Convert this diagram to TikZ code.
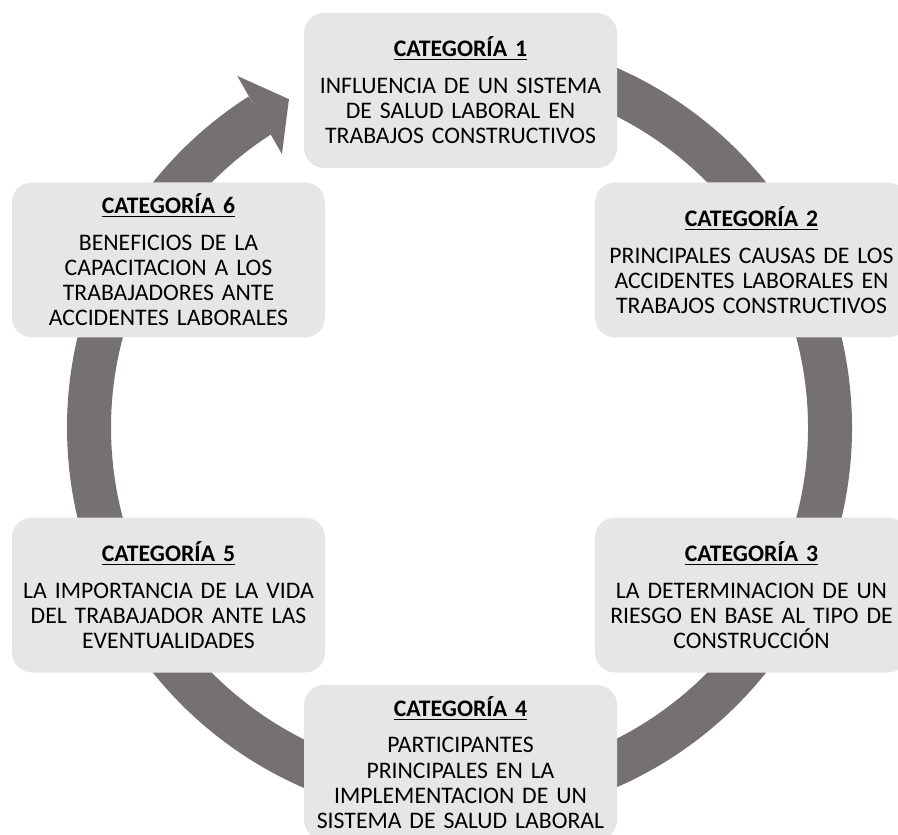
\documentclass[tikz,border=0pt]{standalone}
\usepackage{fontspec}
\setmainfont{Carlito}
\definecolor{ringgray}{RGB}{118,113,113}
\definecolor{boxgray}{RGB}{231,230,230}
\newcommand{\cathead}[1]{\underline{\textbf{CATEGORÍA #1}}\\[6.5pt]}

\begin{document}
\begin{tikzpicture}
    % Define styles
    \tikzset{
        catbox/.style={
            fill=boxgray,
            rounded corners=0.4cm,
            minimum width=6.26cm,
            minimum height=3.10cm,
            text width=6.1cm,
            align=center,
            inner sep=0pt,
            font=\fontsize{13.5}{14.3}\selectfont
        },
        ring/.style={
            ringgray,
            line width=0.88cm
        }
    }

    % Frame
    \useasboundingbox (0,0) rectangle (17.96,16.68);
    \clip (0,0) rectangle (17.96,16.68);

    % Circular arrow
    \coordinate (hub) at (9.19,8.13);
    \draw[ring] ([shift={(95:7.41)}]hub) arc[start angle=95, end angle=-237.5, radius=7.41];
    \fill[ringgray] ([shift={(122.3:8.32)}]hub) -- ([shift={(117.45:7.40)}]hub)
        -- ([shift={(123:6.52)}]hub) -- cycle;

    % Category boxes
    \node[catbox] (cat1) at (9.21,14.87) {\cathead{1}INFLUENCIA DE UN SISTEMA\\ DE SALUD LABORAL EN\\ TRABAJOS CONSTRUCTIVOS};
    \node[catbox] (cat2) at (15.03,11.48) {\cathead{2}PRINCIPALES CAUSAS DE LOS\\ ACCIDENTES LABORALES EN\\ TRABAJOS CONSTRUCTIVOS};
    \node[catbox] (cat3) at (15.03,4.78) {\cathead{3}LA DETERMINACION DE UN\\ RIESGO EN BASE AL TIPO DE\\ CONSTRUCCIÓN};
    \node[catbox] (cat4) at (9.21,1.43) {\cathead{4}PARTICIPANTES\\ PRINCIPALES EN LA\\ IMPLEMENTACION DE UN\\ SISTEMA DE SALUD LABORAL};
    \node[catbox] (cat5) at (3.37,4.78) {\cathead{5}LA IMPORTANCIA DE LA VIDA\\ DEL TRABAJADOR ANTE LAS\\ EVENTUALIDADES};
    \node[catbox] (cat6) at (3.37,11.48) {\cathead{6}BENEFICIOS DE LA\\ CAPACITACION A LOS\\ TRABAJADORES ANTE\\ ACCIDENTES LABORALES};

\end{tikzpicture}
\end{document}
